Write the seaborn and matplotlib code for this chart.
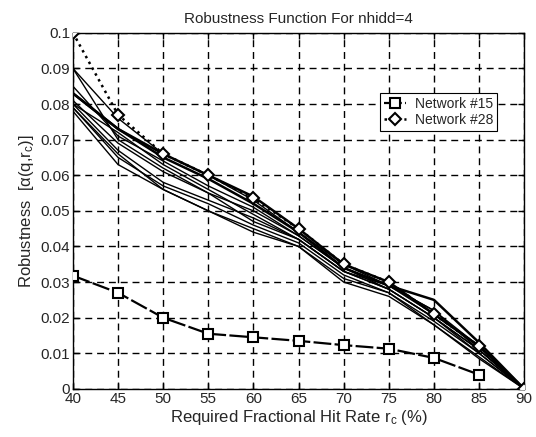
import matplotlib
matplotlib.use('Agg')
import matplotlib.pyplot as plt
import seaborn as sns
import numpy as np

hit_rate = [40, 45, 50, 55, 60, 65, 70, 75, 80, 85, 90]

# other networks (thin black lines)
other_nets = [
    [0.090, 0.076, 0.066, 0.060, 0.053, 0.044, 0.035, 0.029, 0.022, 0.012, 0.0],
    [0.090, 0.070, 0.062, 0.055, 0.047, 0.042, 0.033, 0.028, 0.020, 0.011, 0.0],
    [0.083, 0.073, 0.066, 0.060, 0.054, 0.045, 0.035, 0.030, 0.021, 0.012, 0.0],
    [0.083, 0.073, 0.065, 0.059, 0.052, 0.044, 0.034, 0.029, 0.025, 0.013, 0.0],
    [0.081, 0.069, 0.061, 0.055, 0.050, 0.043, 0.034, 0.028, 0.020, 0.011, 0.0],
    [0.080, 0.067, 0.058, 0.053, 0.048, 0.042, 0.033, 0.028, 0.020, 0.010, 0.0],
    [0.079, 0.065, 0.057, 0.052, 0.046, 0.041, 0.032, 0.027, 0.019, 0.010, 0.0],
    [0.078, 0.063, 0.056, 0.050, 0.045, 0.040, 0.030, 0.026, 0.018, 0.009, 0.0],
    [0.085, 0.071, 0.064, 0.057, 0.051, 0.043, 0.034, 0.029, 0.021, 0.012, 0.0],
    [0.080, 0.072, 0.063, 0.056, 0.049, 0.042, 0.033, 0.029, 0.022, 0.011, 0.0],
    [0.079, 0.066, 0.056, 0.050, 0.044, 0.040, 0.031, 0.027, 0.018, 0.0085, 0.0],
]
other_lw = [1.0, 1.0, 1.8, 1.8, 1.0, 1.0, 1.0, 1.0, 1.0, 1.0, 1.0]

net15_x = [40, 45, 50, 55, 60, 65, 70, 75, 80, 85]
net15 = [0.0318, 0.0270, 0.0200, 0.0155, 0.0145, 0.0135, 0.0123, 0.0113, 0.0087, 0.0040]
net28 = [0.100, 0.077, 0.066, 0.060, 0.0535, 0.045, 0.035, 0.030, 0.021, 0.012, 0.0]

yticks = [0, 0.01, 0.02, 0.03, 0.04, 0.05, 0.06, 0.07, 0.08, 0.09, 0.1]
ytick_labels = ['0', '0.01', '0.02', '0.03', '0.04', '0.05', '0.06', '0.07', '0.08', '0.09', '0.1']

sns.set_style('white', {'axes.edgecolor': 'black'})
plt.rcParams['font.family'] = ['Liberation Sans', 'DejaVu Sans']
plt.rcParams['mathtext.fontset'] = 'custom'
plt.rcParams['mathtext.rm'] = 'Liberation Sans'
plt.rcParams['mathtext.it'] = 'Liberation Sans'

fig = plt.figure(figsize=(5.36, 4.37), dpi=100)
ax = fig.add_axes([0.136, 0.110, 0.842, 0.815])

for vals, lw in zip(other_nets, other_lw):
    sns.lineplot(x=hit_rate, y=vals, ax=ax, color='black', lw=lw, legend=False, zorder=2)

sns.lineplot(x=net15_x, y=net15, ax=ax, color='black', lw=1.6, marker='s', markersize=7,
             markerfacecolor='white', markeredgecolor='black', markeredgewidth=1.5,
             label='Network #15', zorder=3)
ax.lines[-1].set_dashes([8, 1.5])
sns.lineplot(x=hit_rate, y=net28, ax=ax, color='black', lw=1.8, linestyle=':', marker='D',
             markersize=6, markerfacecolor='white', markeredgecolor='black',
             markeredgewidth=1.5, label='Network #28', zorder=3)

ax.set_xlim(40, 90)
ax.set_ylim(0, 0.1)
ax.set_xticks(hit_rate)
ax.set_xticklabels([str(v) for v in hit_rate], fontsize=11)
ax.set_yticks(yticks)
ax.set_yticklabels(ytick_labels, fontsize=11)
ax.tick_params(direction='in', length=4, width=1.0, color='black', pad=2,
               bottom=True, left=True, top=True, right=True)
ax.grid(True, color='black', linewidth=1.0, linestyle=(0, (5, 3.5)))
for s in ax.spines.values():
    s.set_color('black')
    s.set_linewidth(1.0)

ax.set_title('Robustness Function For nhidd=4', fontsize=11, pad=7)
ax.set_xlabel('Required Fractional Hit Rate r$_\\mathregular{c}$ (%)', fontsize=12, labelpad=2)
ax.set_ylabel('Robustness  [$\\alpha$(q,r$_\\mathregular{c}$)]', fontsize=12, labelpad=3)

leg = ax.legend(loc='upper left', bbox_to_anchor=(0.665, 0.85), fontsize=10, frameon=True,
                fancybox=False, edgecolor='black', framealpha=1, borderpad=0.3,
                handlelength=1.6, handletextpad=0.6, labelspacing=0.1)
leg.get_frame().set_linewidth(0.8)
leg.set_zorder(5)

fig.savefig('out.png', dpi=100)
